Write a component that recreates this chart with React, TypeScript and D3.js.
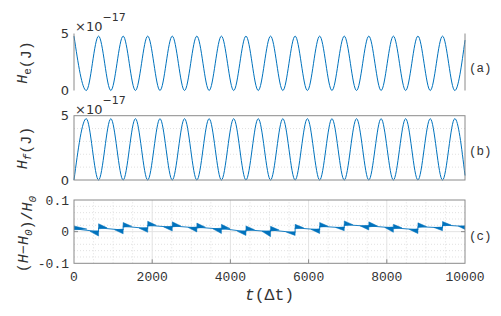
import React, { useEffect, useRef } from 'react';
import * as d3 from 'd3';

// energy extrema (peaks / troughs), units of 1e-17 J
const extT = [0, 314, 628, 942, 1257, 1571, 1885, 2199, 2513, 2827, 3142, 3456, 3770, 4084, 4398, 4712,
  5027, 5341, 5655, 5969, 6283, 6597, 6912, 7226, 7540, 7854, 8168, 8482, 8796, 9111, 9425, 9739, 10000];
const heV = [4.77, 0, 4.77, 0, 4.77, 0, 4.77, 0, 4.77, 0, 4.77, 0, 4.77, 0, 4.77, 0,
  4.77, 0, 4.77, 0, 4.77, 0, 4.77, 0, 4.77, 0, 4.77, 0, 4.77, 0, 4.77, 0, 4.42];
const hfV = [0, 4.77, 0, 4.77, 0, 4.77, 0, 4.77, 0, 4.77, 0, 4.77, 0, 4.77, 0, 4.77,
  0, 4.77, 0, 4.77, 0, 4.77, 0, 4.77, 0, 4.77, 0, 4.77, 0, 4.77, 0, 4.77, 0.35];

// relative energy error: jumps around each peak of H_e
const evtT = [628, 1257, 1885, 2513, 3142, 3770, 4398, 5027, 5655, 6283, 6912, 7540, 8168, 8796, 9425, 10053];
const preV = [0.0, 0.005, 0.01, 0.014, 0.012, 0.008, 0.0, 0.0, -0.003, 0.006, 0.012, 0.017, 0.012, 0.006, 0.012, 0.016];
const dipV = [-0.014, -0.007, -0.002, 0.002, -0.001, -0.006, -0.012, -0.016, -0.012, -0.006, 0.003, 0.005, -0.002, -0.006, 0.003, 0.004];
const postV = [0.012, 0.017, 0.02, 0.018, 0.014, 0.01, 0.006, 0.005, 0.012, 0.017, 0.022, 0.018, 0.012, 0.016, 0.021, 0.02];
const jumpV = [0.025, 0.029, 0.033, 0.031, 0.027, 0.023, 0.018, 0.017, 0.023, 0.029, 0.034, 0.031, 0.023, 0.028, 0.032, 0.03];
const errStart = 0.009;
const errStartTop = 0.018;

const xTicks = [0, 2000, 4000, 6000, 8000, 10000];
const errTicks = [-0.1, 0, 0.1];
const errTickLabels = ['-0.1', '0', '0.1'];
const energyTicks = [0, 5];

const BLUE = '#0072BD';
const AXIS = '#8a8a8a';
const MONO = '"Liberation Mono", "DejaVu Sans Mono", monospace';
const SANS = '"DejaVu Sans", "Liberation Sans", sans-serif';

const App = () => {
  const svgRef = useRef<SVGSVGElement>(null);

  useEffect(() => {
    const svg = d3.select(svgRef.current);
    svg.selectAll('*').remove();

    const left = 74, right = 465;
    const x = d3.scaleLinear().domain([0, 10000]).range([left, right]);
    const yA = d3.scaleLinear().domain([0, 5]).range([90.5, 33.5]);
    const yB = d3.scaleLinear().domain([0, 5]).range([180, 115.7]);
    const yC = d3.scaleLinear().domain([-0.1, 0.1]).range([263.3, 200]);

    // ---- panel (c) grid
    const gC = svg.append('g');
    const minorX = d3.range(500, 10000, 500).filter(t => t % 2000 !== 0);
    gC.selectAll('.mx').data(minorX).join('line')
      .attr('x1', d => x(d)).attr('x2', d => x(d))
      .attr('y1', yC(-0.1)).attr('y2', yC(0.1))
      .attr('stroke', '#d9d9d9').attr('stroke-dasharray', '1,2').attr('stroke-width', 0.8);
    const minorY = d3.range(-0.08, 0.1, 0.02).filter(v => Math.abs(v) > 1e-9);
    gC.selectAll('.my').data(minorY).join('line')
      .attr('x1', left).attr('x2', right)
      .attr('y1', d => yC(d)).attr('y2', d => yC(d))
      .attr('stroke', '#d9d9d9').attr('stroke-dasharray', '1,2').attr('stroke-width', 0.8);
    gC.selectAll('.gx').data(xTicks.slice(1, -1)).join('line')
      .attr('x1', d => x(d)).attr('x2', d => x(d))
      .attr('y1', yC(-0.1)).attr('y2', yC(0.1))
      .attr('stroke', '#e3e3e3');
    gC.append('line')
      .attr('x1', left).attr('x2', right).attr('y1', yC(0)).attr('y2', yC(0))
      .attr('stroke', '#e3e3e3');

    // ---- panel (b) minor grid
    svg.append('g').selectAll('line').data([1, 2, 3, 4]).join('line')
      .attr('x1', left).attr('x2', right)
      .attr('y1', d => yB(d)).attr('y2', d => yB(d))
      .attr('stroke', '#d9d9d9').attr('stroke-dasharray', '1,2').attr('stroke-width', 0.8);

    // ---- energy curves
    const energyLine = (y: d3.ScaleLinear<number, number>) => d3.line<[number, number]>()
      .x(d => x(d[0])).y(d => y(d[1])).curve(d3.curveMonotoneX);
    svg.append('path')
      .attr('d', energyLine(yA)(extT.map((t, i) => [t, heV[i]] as [number, number])))
      .attr('fill', 'none').attr('stroke', BLUE).attr('stroke-width', 1);
    svg.append('path')
      .attr('d', energyLine(yB)(extT.map((t, i) => [t, hfV[i]] as [number, number])))
      .attr('fill', 'none').attr('stroke', BLUE).attr('stroke-width', 1);

    // ---- error curve (clipped to panel c)
    svg.append('clipPath').attr('id', 'clipC').append('rect')
      .attr('x', left).attr('y', yC(0.1)).attr('width', right - left).attr('height', yC(-0.1) - yC(0.1));
    const gErr = svg.append('g').attr('clip-path', 'url(#clipC)');
    const errPts: [number, number][] = [[0, errStart]];
    evtT.forEach((t, i) => { errPts.push([t, preV[i]]); errPts.push([t, postV[i]]); });
    const lin = d3.line<[number, number]>().x(d => x(d[0])).y(d => yC(d[1]));
    gErr.append('path').attr('d', lin(errPts))
      .attr('fill', 'none').attr('stroke', BLUE).attr('stroke-width', 0.9);
    const wl = 220;
    const wedges: [number, number][][] = [[[0, errStartTop], [0, errStart - 0.003], [wl * 1.5, errStart - 0.001]]];
    evtT.forEach((t, i) => {
      wedges.push([[t - wl, preV[i] + 0.001], [t, preV[i] + 0.003], [t, dipV[i]]]);
      wedges.push([[t, jumpV[i]], [t, postV[i] - 0.003], [t + wl, postV[i]]]);
    });
    gErr.selectAll('.wedge').data(wedges).join('path')
      .attr('d', d => lin(d) + 'Z')
      .attr('fill', BLUE).attr('stroke', BLUE).attr('stroke-width', 0.5);

    // ---- axes lines
    const ax = svg.append('g').attr('stroke', AXIS).attr('fill', 'none').attr('stroke-width', 1);
    ax.append('line').attr('x1', left).attr('x2', left).attr('y1', yA(5)).attr('y2', yA(0));
    ax.append('line').attr('x1', right).attr('x2', right).attr('y1', yA(5)).attr('y2', yA(0));
    ax.append('rect').attr('x', left).attr('y', yB(5)).attr('width', right - left).attr('height', yB(0) - yB(5));
    ax.append('rect').attr('x', left).attr('y', yC(0.1)).attr('width', right - left).attr('height', yC(-0.1) - yC(0.1));
    // inward ticks
    ax.selectAll('.tx').data(xTicks.slice(1, -1)).join('line')
      .attr('x1', d => x(d)).attr('x2', d => x(d)).attr('y1', yC(-0.1)).attr('y2', yC(-0.1) - 4);
    ax.selectAll('.ty').data(errTicks.slice(1, -1)).join('line')
      .attr('x1', left).attr('x2', left + 4).attr('y1', d => yC(d)).attr('y2', d => yC(d));
    ax.selectAll('.ty2').data(errTicks.slice(1, -1)).join('line')
      .attr('x1', right).attr('x2', right - 4).attr('y1', d => yC(d)).attr('y2', d => yC(d));

    // ---- tick labels
    const tl = svg.append('g').attr('fill', '#333');
    [yA, yB].forEach(y => {
      tl.selectAll(null).data(energyTicks).join('text')
        .attr('x', left - 5).attr('y', d => y(d)).attr('dy', '0.36em')
        .attr('text-anchor', 'end').attr('font-family', SANS).attr('font-size', 13)
        .text(d => d);
    });
    tl.selectAll(null).data(errTicks).join('text')
      .attr('x', left - 5).attr('y', d => yC(d)).attr('dy', '0.36em')
      .attr('text-anchor', 'end').attr('font-family', MONO).attr('font-size', 13)
      .text((d, i) => errTickLabels[i]);
    tl.selectAll(null).data(xTicks).join('text')
      .attr('x', d => x(d)).attr('y', 281)
      .attr('text-anchor', 'middle').attr('font-family', MONO).attr('font-size', 13)
      .text(d => d);

    // ---- exponent labels
    [[31, 21], [113.5, 103.5]].forEach(([b, e]) => {
      const t = tl.append('text').attr('font-family', SANS).attr('font-size', 13);
      t.append('tspan').attr('x', 75).attr('y', b).text('\u00d710');
      t.append('tspan').attr('y', e).attr('font-size', 11).text('\u221217');
    });

    // ---- panel tags
    [['(a)', 67.5], ['(b)', 150], ['(c)', 235]].forEach(([s, y]) => {
      tl.append('text').attr('x', 469).attr('y', y as number).attr('dy', '0.36em')
        .attr('font-family', MONO).attr('font-size', 12.5).text(s as string);
    });

    // ---- axis titles
    const yLabel = (cx: number, cy: number, parts: [string, boolean, boolean][]) => {
      const t = tl.append('text')
        .attr('transform', `translate(${cx},${cy}) rotate(-90)`)
        .attr('text-anchor', 'middle').attr('font-family', MONO).attr('font-size', 15);
      parts.forEach(([s, it, sub]) => {
        t.append('tspan')
          .attr('font-style', it ? 'italic' : 'normal')
          .attr('font-size', sub ? 11 : 15)
          .attr('dy', sub ? 4 : 0)
          .text(s);
        if (sub) t.append('tspan').attr('dy', -4).text('');
      });
    };
    yLabel(27, 62.5, [['H', true, false], ['e', false, true], ['(J)', false, false]]);
    yLabel(27, 148, [['H', true, false], ['f', true, true], ['(J)', false, false]]);
    yLabel(28, 234, [['(', false, false], ['H', true, false], ['\u2212', false, false], ['H', true, false],
      ['0', true, true], [')/', false, false], ['H', true, false], ['0', true, true]]);

    const xl = tl.append('text').attr('x', (left + right) / 2).attr('y', 300)
      .attr('text-anchor', 'middle').attr('font-family', MONO).attr('font-size', 16.5);
    xl.append('tspan').attr('font-style', 'italic').text('t');
    xl.append('tspan').text('(\u0394t)');
  }, []);

  return (
    <svg ref={svgRef} width={501} height={316}
      style={{ position: 'absolute', left: 0, top: 0, background: '#fff' }} />
  );
};

export default App;
